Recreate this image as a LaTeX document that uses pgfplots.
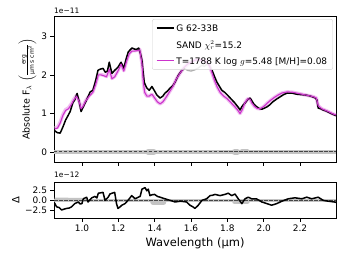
\documentclass[border=0pt]{standalone}
\usepackage{fontspec}
\setmainfont{DejaVu Sans}
\usepackage{pgfplots}
\pgfplotsset{compat=1.18}
\definecolor{mag}{RGB}{204,51,204}
\definecolor{magl}{RGB}{238,175,238}
\definecolor{errg}{RGB}{195,195,195}
\definecolor{dashg}{RGB}{70,70,70}
\definecolor{datg}{RGB}{175,175,175}
\pgfplotsset{
 myax/.style={scale only axis, width=282bp, xmin=0.846, xmax=2.398,
   axis line style={line width=0.6bp}, tick style={line width=0.6bp, black},
   major tick length=3.5bp, tick align=outside, xtick pos=bottom, ytick pos=left,
   ticklabel style={font=\fontsize{9}{10}\selectfont},
   xtick={1.0,1.2,1.4,1.6,1.8,2.0,2.2}, scaled ticks=false,
   every axis plot/.append style={line join=round}}
}
\newcommand{\lstrut}{\rule[-0.5em]{0pt}{1.5em}}
\begin{document}
\begin{tikzpicture}
\begin{axis}[myax, name=top, at={(0,0)}, anchor=south west, height=146bp,
  ymin=-0.26, ymax=3.53, ytick={0,1,2,3}, yticklabels={0,1,2,3}, xticklabels={},
  ylabel={Absolute F$_\lambda$ $\left(\frac{\mbox{\fontsize{6}{7}\selectfont erg}}{\mbox{\fontsize{6}{7}\selectfont µm s cm$^2$}}\right)$},
  ylabel style={font=\fontsize{9.5}{11}\selectfont, yshift=-2bp},
  legend style={at={(0.989,0.979)}, anchor=north east, draw=gray!35, rounded corners=2bp,
    fill=white, fill opacity=0.8, text opacity=1, font=\fontsize{9}{11}\selectfont,
    inner xsep=3.5bp, inner ysep=1.5bp, row sep=2bp},
  legend cell align=left]
\addlegendimage{black, line width=1.5bp}
\addlegendentry{\lstrut G 62-33B}
\addlegendimage{empty legend}
\addlegendentry{\lstrut SAND $\chi^2_r$=15.2}
\addlegendimage{mag, line width=1.2bp}
\addlegendentry{\lstrut T=1788 K log $g$=5.48 [M/H]=0.08}
% error band near zero
\addplot[errg, line width=3.5bp, forget plot] coordinates {(0.846,0) (2.398,0)};
\addplot[errg, line width=6bp, line cap=round, forget plot] coordinates {(1.365,0) (1.395,0)};
\addplot[errg, line width=6bp, line cap=round, forget plot] coordinates {(1.84,0) (1.855,0)};
\addplot[errg, line width=5bp, line cap=round, forget plot] coordinates {(1.88,0) (1.91,0)};
\addplot[dashg, line width=1bp, dash pattern=on 3.5bp off 1.5bp, forget plot] coordinates {(0.846,0) (2.398,0)};
% model band
\addplot[magl, line width=3.5bp, opacity=0.8, forget plot] table {
0.850 0.62
0.865 0.64
0.880 0.77
0.895 0.97
0.910 1.10
0.925 1.14
0.940 1.24
0.955 1.37
0.970 1.47
0.985 1.31
0.995 1.13
1.005 1.19
1.020 1.33
1.040 1.46
1.060 1.56
1.075 1.76
1.090 2.01
1.105 2.01
1.120 1.99
1.135 1.96
1.150 2.16
1.165 1.91
1.180 1.96
1.198 2.11
1.215 2.29
1.230 2.11
1.245 2.36
1.260 2.56
1.275 2.63
1.290 2.63
1.305 2.64
1.318 2.66
1.330 2.31
1.338 1.80
1.345 1.55
1.357 1.45
1.370 1.45
1.385 1.50
1.400 1.40
1.415 1.30
1.430 1.25
1.445 1.30
1.460 1.40
1.480 1.55
1.500 1.70
1.520 1.90
1.540 2.05
1.560 2.18
1.580 2.28
1.600 2.33
1.620 2.38
1.640 2.40
1.660 2.38
1.680 2.36
1.700 2.25
1.716 2.05
1.730 1.85
1.745 1.68
1.760 1.55
1.780 1.45
1.800 1.38
1.820 1.28
1.840 1.18
1.855 1.10
1.870 1.00
1.880 1.08
1.897 1.28
1.912 1.38
1.925 1.37
1.935 1.27
1.950 1.18
1.965 1.13
1.980 1.12
2.000 1.18
2.020 1.27
2.040 1.35
2.060 1.42
2.080 1.48
2.100 1.53
2.130 1.56
2.160 1.55
2.190 1.52
2.220 1.49
2.250 1.46
2.270 1.44
2.290 1.40
2.300 1.20
2.320 1.12
2.340 1.08
2.360 1.04
2.380 0.99
2.398 0.96
};
% masked data (grey)
\addplot[datg, line width=1.3bp, forget plot] table {
1.550 2.12
1.565 2.17
1.580 2.12
1.600 2.10
1.620 2.13
1.640 2.18
1.660 2.25
1.675 2.22
1.690 2.30
1.705 2.22
1.716 2.12
};
% data
\addplot[black, line width=1.5bp, forget plot] table {
0.850 0.55
0.865 0.50
0.880 0.49
0.895 0.65
0.910 0.83
0.925 0.96
0.935 1.05
0.950 1.28
0.960 1.35
0.973 1.52
0.985 1.30
0.995 1.05
1.005 1.15
1.020 1.30
1.035 1.45
1.045 1.56
1.060 1.60
1.075 1.85
1.088 2.12
1.100 2.15
1.116 2.17
1.128 2.07
1.140 2.10
1.150 2.33
1.165 2.04
1.180 2.12
1.198 2.20
1.215 2.33
1.230 2.17
1.245 2.45
1.255 2.60
1.275 2.70
1.290 2.67
1.300 2.66
1.312 2.70
1.322 2.55
1.330 2.38
1.337 2.05
1.343 1.80
1.357 1.66
1.370 1.60
1.385 1.70
1.400 1.58
1.412 1.48
1.430 1.40
1.445 1.45
1.457 1.53
1.470 1.58
1.485 1.66
1.500 1.72
1.512 1.81
1.530 1.99
1.550 2.12
1.565 2.17
};
\addplot[black, line width=1.5bp, forget plot] table {
1.716 2.12
1.730 1.95
1.743 1.81
1.757 1.70
1.770 1.60
1.785 1.55
1.800 1.48
1.812 1.42
1.826 1.35
1.840 1.28
1.850 1.22
1.862 1.15
1.870 1.09
1.880 1.18
1.897 1.27
1.912 1.36
1.925 1.40
1.935 1.33
1.945 1.25
1.960 1.18
1.975 1.13
1.990 1.11
2.005 1.14
2.018 1.17
2.035 1.23
2.050 1.30
2.070 1.37
2.090 1.43
2.110 1.49
2.130 1.53
2.155 1.53
2.180 1.50
2.205 1.49
2.227 1.48
2.250 1.46
2.270 1.43
2.285 1.40
2.293 1.35
2.300 1.14
2.315 1.12
2.326 1.09
2.340 1.07
2.353 1.04
2.370 1.00
2.390 0.96
2.398 0.94
};
% model
\addplot[mag, line width=1.1bp, forget plot] table {
0.850 0.60
0.865 0.62
0.880 0.75
0.895 0.95
0.910 1.08
0.925 1.12
0.940 1.22
0.955 1.35
0.970 1.45
0.985 1.30
0.995 1.12
1.005 1.18
1.020 1.32
1.040 1.45
1.060 1.55
1.075 1.75
1.090 2.00
1.105 2.00
1.120 1.98
1.135 1.95
1.150 2.15
1.165 1.90
1.180 1.95
1.198 2.10
1.215 2.28
1.230 2.10
1.245 2.35
1.260 2.55
1.275 2.62
1.290 2.62
1.305 2.63
1.318 2.65
1.330 2.30
1.338 1.80
1.345 1.55
1.357 1.45
1.370 1.45
1.385 1.50
1.400 1.40
1.415 1.30
1.430 1.25
1.445 1.30
1.460 1.40
1.480 1.55
1.500 1.70
1.520 1.90
1.540 2.05
1.560 2.18
1.580 2.28
1.600 2.33
1.620 2.38
1.640 2.40
1.660 2.38
1.680 2.36
1.700 2.25
1.716 2.05
1.730 1.85
1.745 1.68
1.760 1.55
1.780 1.45
1.800 1.38
1.820 1.28
1.840 1.18
1.855 1.10
1.870 1.00
1.880 1.08
1.897 1.28
1.912 1.38
1.925 1.37
1.935 1.27
1.950 1.18
1.965 1.13
1.980 1.12
2.000 1.18
2.020 1.27
2.040 1.35
2.060 1.42
2.080 1.48
2.100 1.53
2.130 1.56
2.160 1.55
2.190 1.52
2.220 1.49
2.250 1.46
2.270 1.44
2.290 1.40
2.300 1.20
2.320 1.12
2.340 1.08
2.360 1.04
2.380 0.99
2.398 0.96
};
\end{axis}
\begin{axis}[myax, name=bot, at={(0,-56bp)}, anchor=south west, height=36bp,
  ymin=-4.4, ymax=4.6, ytick={-2.5,0,2.5}, yticklabels={−2.5,0.0,2.5},
  xticklabels={1.0,1.2,1.4,1.6,1.8,2.0,2.2},
  xlabel={Wavelength (µm)}, xlabel style={font=\fontsize{11.5}{13}\selectfont, yshift=1bp},
  ylabel={Δ}, ylabel style={font=\fontsize{10}{12}\selectfont, yshift=-1bp}]
\addplot[errg, line width=3bp] coordinates {(0.846,0) (2.398,0)};
\addplot[errg, line width=2.5bp] coordinates {(0.85,0.4) (1.0,0.3)};
\addplot[errg, line width=5bp, line cap=round] coordinates {(1.39,-0.4) (1.45,-0.4)};
\addplot[errg, line width=5bp, line cap=round] coordinates {(1.84,-0.3) (1.91,-0.3)};
\addplot[dashg, line width=1bp, dash pattern=on 3.5bp off 1.5bp] coordinates {(0.846,0) (2.398,0)};
\addplot[black, line width=1.5bp] table {
0.846 -0.4
0.860 -1.6
0.875 -1.8
0.888 -2.4
0.900 -2.2
0.916 -2.0
0.930 -1.9
0.943 -1.6
0.960 -0.8
0.980 -0.4
0.990 -0.9
1.000 -0.8
1.007 0.4
1.026 0.8
1.033 -0.4
1.045 0.2
1.054 0.65
1.072 1.0
1.082 0.6
1.090 1.8
1.104 1.9
1.116 2.0
1.127 0.0
1.144 0.8
1.154 1.6
1.166 1.8
1.180 2.0
1.190 -0.8
1.198 -2.0
1.210 -1.6
1.219 -1.2
1.237 -0.8
1.253 0.0
1.274 1.2
1.292 0.4
1.310 0.8
1.320 1.0
1.330 2.8
1.347 3.2
1.357 2.4
1.365 2.8
1.374 1.2
1.385 1.4
1.400 1.5
1.415 1.0
1.430 0.8
1.457 0.4
1.485 0.0
1.500 -0.2
1.512 -0.4
1.540 -0.2
1.560 -0.3
1.576 -0.4
1.594 -1.2
1.610 -1.6
1.622 -2.0
1.640 -1.2
1.660 0.0
1.686 0.4
1.705 1.2
1.720 1.3
1.732 1.5
1.760 1.2
1.787 1.5
1.805 1.8
1.824 1.2
1.842 1.6
1.860 0.4
1.880 -0.8
1.897 0.4
1.915 0.8
1.934 0.4
1.960 0.4
1.990 -0.4
2.017 -0.8
2.044 -1.2
2.072 -0.8
2.100 -0.2
2.135 0.4
2.172 0.65
2.210 0.4
2.237 0.8
2.264 0.4
2.300 0.8
2.328 0.0
2.355 -0.2
2.390 -0.4
2.398 -0.5
};
\end{axis}
\node[anchor=base west, inner sep=0, font=\fontsize{7.5}{8}\selectfont] at ([yshift=2bp]top.north west) {1e−11};
\node[anchor=base west, inner sep=0, font=\fontsize{7.5}{8}\selectfont] at ([yshift=4.5bp]bot.north west) {1e−12};
\pgfresetboundingbox
\path[use as bounding box] (-54bp,-97bp) rectangle (291bp,162bp);
\end{tikzpicture}
\end{document}
